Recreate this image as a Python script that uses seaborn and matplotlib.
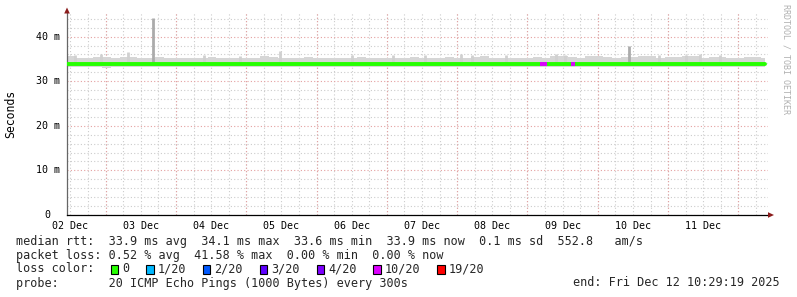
import numpy as np
import pandas as pd
import matplotlib
matplotlib.use("Agg")
import matplotlib.pyplot as plt
import seaborn as sns
from matplotlib.patches import Rectangle, Polygon

# ---------------- data ----------------
day_labels = ["02 Dec", "03 Dec", "04 Dec", "05 Dec", "06 Dec",
              "07 Dec", "08 Dec", "09 Dec", "10 Dec", "11 Dec"]
y_tick_values = [0, 10, 20, 30, 40]
y_tick_labels = ["0", "10 m", "20 m", "30 m", "40 m"]

# median rtt per 3-hour bin (ms)
median_ms = [33.8, 33.8, 33.8, 33.8, 33.8, 33.8, 33.8, 33.8, 33.8, 33.8,
             33.8, 33.8, 33.8, 33.8, 33.8, 33.8, 33.9, 33.9, 33.9, 33.9,
             33.9, 33.9, 33.9, 33.9, 33.9, 33.9, 33.9, 33.9, 33.9, 33.9,
             33.9, 33.9, 33.9, 33.9, 33.9, 33.9, 33.9, 33.9, 33.9, 33.9,
             33.9, 33.9, 33.9, 33.9, 33.9, 33.9, 33.9, 33.9, 33.9, 33.9,
             33.9, 33.9, 33.9, 33.9, 33.9, 33.9, 33.9, 33.9, 33.9, 33.9,
             33.9, 33.9, 33.9, 33.9, 33.9, 33.9, 33.9, 33.9, 33.9, 33.9,
             33.9, 33.9, 33.9, 33.9, 33.9, 33.9, 33.9, 33.9, 33.9, 33.9]
# smoke upper edge per bin (ms)
smoke_hi = [35.6, 35.3, 35.2, 35.5, 35.5, 35.2, 35.4, 35.5, 35.2, 35.3,
            35.4, 35.1, 35.2, 35.3, 35.1, 35.3, 35.4, 35.2, 35.3, 35.1,
            35.3, 35.2, 35.6, 35.5, 35.2, 35.1, 35.3, 35.4, 35.2, 35.1,
            35.1, 35.3, 35.2, 35.5, 35.1, 35.2, 35.3, 35.2, 35.1, 35.4,
            35.2, 35.1, 35.3, 35.5, 35.3, 35.2, 35.4, 35.6, 35.3, 35.3,
            35.2, 35.3, 35.1, 35.4, 35.3, 35.6, 35.7, 35.5, 35.3, 35.6,
            35.7, 35.4, 35.3, 35.5, 35.4, 35.7, 35.6, 35.3, 35.4, 35.5,
            35.6, 35.7, 35.3, 35.5, 35.4, 35.3, 35.2, 35.4, 35.5, 35.3]
# smoke lower edge per bin (ms)
smoke_lo = [33.2, 33.2, 33.1, 33.2, 33.0, 33.2, 33.1, 33.2, 33.1, 33.2,
            33.1, 33.2, 33.2, 33.1, 33.2, 33.1, 33.2, 33.2, 33.1, 33.2,
            33.2, 33.1, 33.2, 33.2, 33.2, 33.1, 33.2, 33.2, 33.1, 33.2,
            33.1, 33.2, 33.1, 33.2, 33.2, 33.1, 33.2, 33.1, 33.2, 33.2,
            33.1, 33.2, 33.1, 33.2, 33.1, 33.2, 33.2, 33.1, 33.2, 33.1,
            33.2, 33.1, 33.2, 33.2, 33.1, 33.2, 33.1, 33.2, 33.1, 33.2,
            33.1, 33.2, 33.1, 33.2, 33.2, 33.1, 33.2, 33.1, 33.2, 33.1,
            33.2, 33.1, 33.2, 33.1, 33.2, 33.1, 33.2, 33.1, 33.2, 33.1]

# narrow smoke peaks (hours since 02 Dec 00:00, ms)
peak_hours = [1.5, 10.4, 19.6, 28.2, 45.6, 58.0, 71.5, 96.1, 110.0, 121.0,
              133.3, 137.0, 148.6, 165.7, 168.8, 190.6, 201.0, 210.0,
              214.8, 221.7]
peak_ms = [35.8, 36.0, 36.6, 44.2, 35.8, 35.7, 36.8, 35.8, 35.9, 35.8,
           36.0, 35.8, 35.9, 36.1, 35.9, 38.0, 35.8, 35.9, 36.1, 35.8]
peak_strong = [False, False, False, True, False, False, False, False,
               False, False, False, False, False, False, False, True,
               False, False, False, False]

# packet loss episodes (hours) and lost pings out of 20
loss_start_h = [160.4, 171.0]
loss_end_h = [162.5, 172.3]
loss_count = [10, 10]

legend_labels = ["0", "1/20", "2/20", "3/20", "4/20", "10/20", "19/20"]
legend_counts = [0, 1, 2, 3, 4, 10, 19]
legend_colors = ["#26ff00", "#00b8ff", "#0059ff", "#5e00ff", "#7e00ff",
                 "#dd00ff", "#ff0000"]

rtt_line = "median rtt:  33.9 ms avg  34.1 ms max  33.6 ms min  33.9 ms now  0.1 ms sd  552.8   am/s"
loss_line = "packet loss: 0.52 % avg  41.58 % max  0.00 % min  0.00 % now"
probe_line = "probe:       20 ICMP Echo Pings (1000 Bytes) every 300s"
end_line = "end: Fri Dec 12 10:29:19 2025"

BIN_H = 3.0
START_H = -1.2
END_H = 237.0
X_MIN, X_MAX = -1.19, 238.1
Y_MAX = 45.3

# ---------------- figure ----------------
sns.set_theme(style="white")
plt.rcParams["font.family"] = ["DejaVu Sans Mono", "DejaVu Sans"]

W, H = 797, 297
fig = plt.figure(figsize=(W / 100, H / 100), dpi=100)
fig.patch.set_facecolor("white")
ax = fig.add_axes([67 / W, (H - 215) / H, (768 - 67) / W, (215 - 13) / H])
ax.set_facecolor("white")

n = len(median_ms)
edges = np.minimum(START_H + BIN_H * np.arange(n + 1), END_H)
hi_e = np.r_[smoke_hi, smoke_hi[-1]]
lo_e = np.r_[smoke_lo, smoke_lo[-1]]
med_e = np.r_[median_ms, median_ms[-1]]

# smoke
ax.fill_between(edges, lo_e, hi_e, step="post", color="#d6d6d6", lw=0, zorder=2)
pcolors = ["#ababab" if s else "#d0d0d0" for s in peak_strong]
ax.vlines(peak_hours, 34.2, peak_ms, colors=pcolors, lw=2.0, zorder=2)

# median line
df = pd.DataFrame({"hour": edges, "rtt": med_e})
sns.lineplot(data=df, x="hour", y="rtt", drawstyle="steps-post",
             color="#26ff00", lw=2.8, ax=ax, zorder=4, legend=False)

# loss-coloured segments
cmap = dict(zip(legend_counts, legend_colors))
for s, e, c in zip(loss_start_h, loss_end_h, loss_count):
    idx = int((s - START_H) // BIN_H)
    ax.hlines(median_ms[idx], s, e, colors=cmap[c], lw=2.8, zorder=5)

# axes limits / ticks
ax.set_xlim(X_MIN, X_MAX)
ax.set_ylim(0, Y_MAX)
day_pos = [24 * i for i in range(len(day_labels))]
ax.set_xticks(day_pos)
ax.set_xticklabels(day_labels, fontsize=7.2)
ax.set_xticks([h for h in range(6, 240, 6) if h % 24 != 0], minor=True)
ax.set_yticks(y_tick_values)
ax.set_yticklabels([])
ax.set_yticks([v for v in range(2, 46, 2) if v % 10 != 0], minor=True)
ax.set_xlabel("")
ax.set_ylabel("")
ax.tick_params(axis="x", which="both", direction="out", length=2, width=0.8,
               color="#555555", pad=2.5, labelcolor="black")
ax.tick_params(axis="y", which="both", direction="out", length=2, width=0.8,
               color="#555555")

dot = (0, (1, 2))
ax.grid(which="both", axis="x", color="#cccccc", ls=dot, lw=0.8, zorder=0)
ax.grid(which="minor", axis="y", color="#cccccc", ls=dot, lw=0.8, zorder=0)
ax.grid(which="major", axis="y", color="#e4a0a0", ls=dot, lw=0.8, zorder=0)
for d in day_pos:
    ax.axvline(d + 12, color="#e4a0a0", ls=dot, lw=0.8, zorder=1)
ax.set_axisbelow(True)

for v, lab in zip(y_tick_values, y_tick_labels):
    off = -7 if lab.endswith("m") else -17
    ax.annotate(lab, xy=(0, v), xycoords=("axes fraction", "data"),
                xytext=(off, 0), textcoords="offset pixels",
                ha="right", va="center", fontsize=7.2, color="black")

for side in ["top", "right"]:
    ax.spines[side].set_visible(False)
ax.spines["left"].set_color("#666666")
ax.spines["bottom"].set_color("black")
ax.spines["left"].set_linewidth(0.9)
ax.spines["bottom"].set_linewidth(0.9)


def px(x, y):
    return (x / W, 1 - y / H)


arrow_c = "#8b1c1c"
fig.add_artist(Polygon([px(67, 7.5), px(64.2, 13.5), px(69.8, 13.5)],
                       closed=True, transform=fig.transFigure,
                       color=arrow_c, lw=0))
fig.add_artist(Polygon([px(774, 215), px(768, 212.2), px(768, 217.8)],
                       closed=True, transform=fig.transFigure,
                       color=arrow_c, lw=0))

# labels
fig.text(11 / W, 1 - 114 / H, "Seconds", rotation=90, fontsize=8.3,
         ha="center", va="center", color="black")
fig.text(786 / W, 1 - 59 / H, "RRDTOOL / TOBI OETIKER", rotation=270,
         fontsize=6, ha="center", va="center", color="#b0b0b0")

FS = 8.5
CW = 7.1
fig.text(16 / W, 1 - 241 / H, rtt_line, fontsize=FS, ha="left", va="center")
fig.text(16 / W, 1 - 255 / H, loss_line, fontsize=FS, ha="left", va="center")
fig.text(16 / W, 1 - 269 / H, "loss color:", fontsize=FS, ha="left", va="center")
fig.text(16 / W, 1 - 283 / H, probe_line, fontsize=FS, ha="left", va="center")
fig.text(780 / W, 1 - 283 / H, end_line, fontsize=FS, ha="right", va="center")

x0 = 110.6
for lab, col in zip(legend_labels, legend_colors):
    fig.add_artist(Rectangle(px(x0, 273.5), 7.5 / W, 8.5 / H,
                             transform=fig.transFigure, facecolor=col,
                             edgecolor="black", lw=0.8))
    fig.text((x0 + 11.5) / W, 1 - 269 / H, lab, fontsize=FS,
             ha="left", va="center")
    x0 += (len(lab) + 4) * CW

fig.savefig("out.png", dpi=100, facecolor="white")
